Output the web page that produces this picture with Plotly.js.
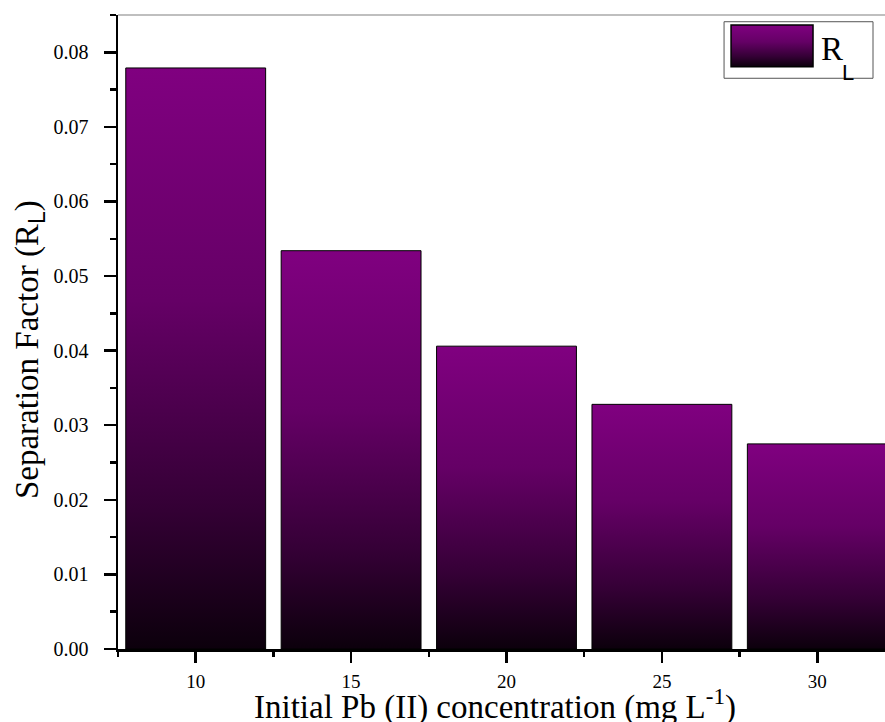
<!DOCTYPE html>
<html>
<head>
<meta charset="utf-8">
<script src="https://cdn.plot.ly/plotly-3.0.1.min.js"></script>
<style>
html,body{margin:0;padding:0;overflow:hidden;background:#fff;width:885px;height:722px;}
#chart{width:900px;height:722px;}
</style>
</head>
<body>
<div id="chart"></div>
<script>
// Data
const concentrations = [10, 15, 20, 25, 30];
const separationFactor = [0.0779, 0.0534, 0.0406, 0.0328, 0.0275];
const xTickVals = [10, 15, 20, 25, 30];
const xTickText = ["10", "15", "20", "25", "30"];
const seriesSymbol = "R";
const seriesSub = "L";

const serif = "Liberation Serif";

const trace = {
  type: "bar",
  x: concentrations,
  y: separationFactor,
  name: seriesSymbol + seriesSub,
  marker: {color: "#800080", line: {color: "#000000", width: 1}},
  showlegend: false,
  hoverinfo: "none"
};

const layout = {
  width: 900, height: 722,
  margin: {l: 118, r: 5, t: 15, b: 73, autoexpand: false},
  paper_bgcolor: "#ffffff", plot_bgcolor: "#ffffff",
  bargap: 0.1,
  font: {family: serif, color: "#000", size: 19},
  xaxis: {
    range: [7.5, 32.5], tickmode: "array", tickvals: xTickVals, ticktext: xTickText,
    showgrid: false, zeroline: false, showline: true, linecolor: "#000", linewidth: 2.5,
    ticks: "outside", ticklen: 11, tickwidth: 2.5, tickcolor: "#000",
    tickfont: {family: serif, size: 19, color: "#000"},
    ticklabelstandoff: 3,
    minor: {tickmode: "array", tickvals: [7.5, 12.5, 17.5, 22.5, 27.5, 32.5], ticks: "outside", ticklen: 5, tickwidth: 2.5, tickcolor: "#000", showgrid: false},
    fixedrange: true
  },
  yaxis: {
    range: [0, 0.085], dtick: 0.01, tick0: 0, tickformat: ".2f",
    showgrid: false, zeroline: false, showline: true, linecolor: "#000", linewidth: 2.5,
    ticks: "outside", ticklen: 12, tickwidth: 2.5, tickcolor: "#000",
    tickfont: {family: serif, size: 20, color: "#000"},
    ticklabelstandoff: 11,
    minor: {dtick: 0.005, tick0: 0, ticks: "outside", ticklen: 6, tickwidth: 2.5, tickcolor: "#000", showgrid: false},
    fixedrange: true
  },
  shapes: [
    {type: "line", xref: "paper", yref: "paper", x0: 0, x1: 1, y0: 1, y1: 1, line: {color: "#808080", width: 1.2}},
    {type: "rect", xref: "paper", yref: "paper", x0: 0.780, x1: 0.9717, y0: 0.9002, y1: 0.9894, line: {color: "#555", width: 1}, fillcolor: "rgba(255,255,255,1)"},
    {type: "rect", xref: "paper", yref: "paper", x0: 0.789, x1: 0.8945, y0: 0.9185, y1: 0.9842, line: {color: "#000", width: 1.5}, fillcolor: "#800080"}
  ],
  annotations: [
    {xref: "paper", yref: "paper", x: 0.9022, y: 0.9464, xanchor: "left", yanchor: "middle", showarrow: false,
     text: seriesSymbol, font: {family: serif, size: 33, color: "#000"}},
    {xref: "paper", yref: "paper", x: 0.9292, y: 0.9095, xanchor: "left", yanchor: "middle", showarrow: false,
     text: seriesSub, font: {family: "Liberation Sans", size: 22, color: "#000"}},
    {xref: "paper", yref: "paper", x: 0.4858, y: -0.0883, xanchor: "center", yanchor: "middle", showarrow: false,
     text: "Initial Pb (II) concentration (mg L<sup>-1</sup>)", font: {family: serif, size: 33, color: "#000"}},
    {xref: "paper", yref: "paper", x: -0.1145, y: 0.4716, xanchor: "center", yanchor: "middle", showarrow: false, textangle: -90,
     text: "Separation Factor (R<sub><span style='font-family:Liberation Sans'>L</span></sub>)", font: {family: serif, size: 33, color: "#000"}}
  ]
};

Plotly.newPlot("chart", [trace], layout, {staticPlot: true, displayModeBar: false}).then(function(gd){
  const NS = "http://www.w3.org/2000/svg";
  const stops = [["0", "#800080"], ["0.4", "#650066"], ["0.75", "#350036"], ["1", "#0c000c"]];
  const svgs = gd.querySelectorAll("svg.main-svg");
  svgs.forEach(function(s, i){
    const defs = document.createElementNS(NS, "defs");
    const grad = document.createElementNS(NS, "linearGradient");
    grad.setAttribute("id", "purpleGrad" + i);
    grad.setAttribute("x1", "0"); grad.setAttribute("y1", "0");
    grad.setAttribute("x2", "0"); grad.setAttribute("y2", "1");
    stops.forEach(function(st){
      const e = document.createElementNS(NS, "stop");
      e.setAttribute("offset", st[0]); e.setAttribute("stop-color", st[1]);
      grad.appendChild(e);
    });
    defs.appendChild(grad);
    s.insertBefore(defs, s.firstChild);
    s.querySelectorAll(".barlayer .point path").forEach(function(p){
      p.style.setProperty("fill", "url(#purpleGrad" + i + ")");
    });
    s.querySelectorAll(".shapelayer path[data-index='2']").forEach(function(p){
      p.style.setProperty("fill", "url(#purpleGrad" + i + ")");
      p.style.setProperty("fill-opacity", "1");
    });
  });
});
</script>
</body>
</html>
